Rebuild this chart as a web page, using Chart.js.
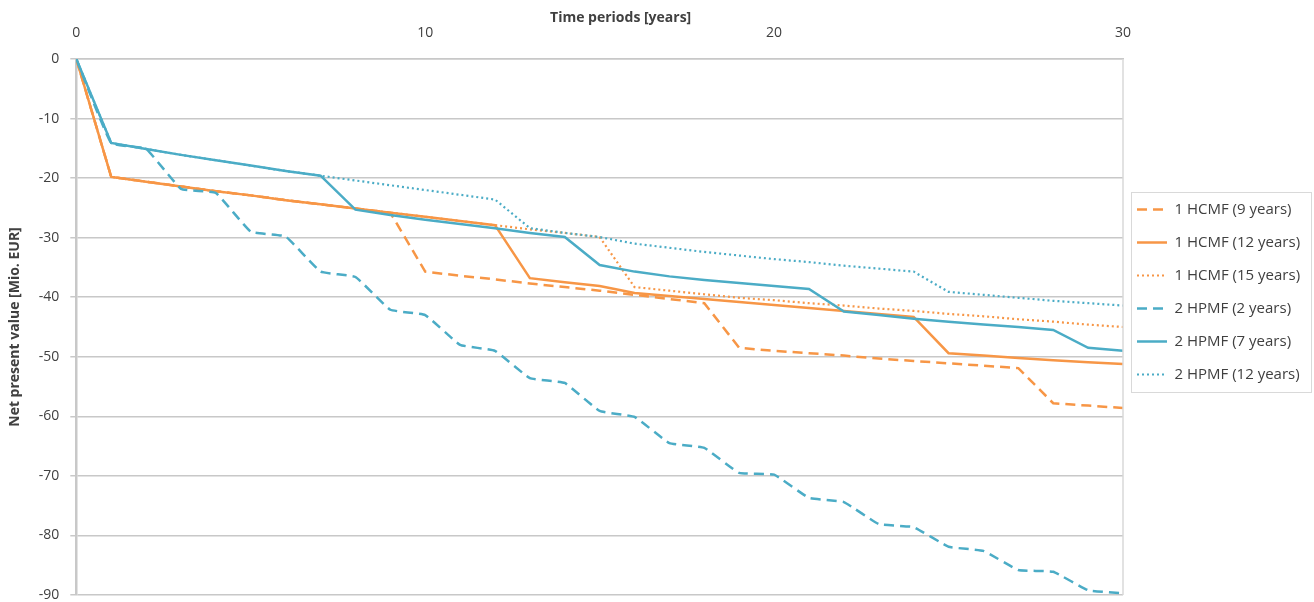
<!DOCTYPE html>
<html>
<head>
<meta charset="utf-8">
<script src="https://cdn.jsdelivr.net/npm/chart.js@4.4.0/dist/chart.umd.min.js"></script>
<style>
  html, body { margin: 0; padding: 0; background: #fff; }
  #wrap { width: 1314px; height: 602px; }
</style>
</head>
<body>
<div id="wrap"><canvas id="chart"></canvas></div>
<script>
// años
const years = [0, 1, 2, 3, 4, 5, 6, 7, 8, 9, 10, 11, 12, 13, 14, 15, 16, 17, 18, 19, 20, 21, 22, 23, 24, 25, 26, 27, 28, 29, 30];

// valores (Mio. EUR)
const hcmf9 = [0, -19.8, -20.6, -21.4, -22.2, -22.9, -23.7, -24.4, -25.1, -25.8, -35.7, -36.4, -37.0, -37.7, -38.3, -38.9, -39.6, -40.3, -41.0, -48.5, -49.0, -49.4, -49.8, -50.3, -50.7, -51.1, -51.5, -51.9, -57.8, -58.2, -58.6];
const hcmf12 = [0, -19.8, -20.6, -21.4, -22.2, -22.9, -23.7, -24.4, -25.1, -25.8, -26.5, -27.2, -27.9, -36.8, -37.5, -38.1, -39.3, -39.8, -40.3, -40.8, -41.3, -41.8, -42.3, -42.8, -43.3, -49.4, -49.8, -50.2, -50.6, -50.9, -51.2];
const hcmf15 = [0, -19.8, -20.6, -21.4, -22.2, -22.9, -23.7, -24.4, -25.1, -25.8, -26.5, -27.2, -27.9, -28.6, -29.2, -29.9, -38.3, -38.9, -39.5, -40.1, -40.5, -41.0, -41.4, -41.9, -42.3, -42.8, -43.2, -43.7, -44.1, -44.6, -45.0];
const hpmf2 = [0, -14.1, -15.1, -21.8, -22.5, -29.0, -29.8, -35.7, -36.6, -42.1, -43.0, -48.0, -49.0, -53.6, -54.4, -59.1, -60.1, -64.5, -65.3, -69.5, -69.8, -73.7, -74.4, -78.1, -78.6, -81.9, -82.6, -85.8, -86.1, -89.2, -89.7];
const hpmf7 = [0, -14.1, -15.1, -16.1, -17.0, -17.9, -18.8, -19.6, -25.3, -26.2, -27.0, -27.7, -28.4, -29.2, -29.9, -34.6, -35.7, -36.5, -37.1, -37.6, -38.1, -38.6, -42.4, -43.0, -43.6, -44.1, -44.6, -45.0, -45.5, -48.5, -49.0];
const hpmf12 = [0, -14.1, -15.1, -16.1, -17.0, -17.9, -18.8, -19.6, -20.4, -21.2, -22.0, -22.8, -23.6, -28.4, -29.2, -29.9, -31.0, -31.7, -32.4, -33.0, -33.6, -34.1, -34.7, -35.2, -35.7, -39.1, -39.6, -40.1, -40.6, -41.0, -41.4];

const orange = '#F79646';
const blue = '#4BACC6';

const toPoints = vals => years.map((t, i) => ({ x: t, y: vals[i] }));

// la última serie queda encima (como en Excel)
function serie(idx, label, vals, color, dash, width, tension) {
    return {
        label: label,
        data: toPoints(vals),
        order: 10 - idx,
        borderColor: color,
        backgroundColor: color,
        borderDash: dash,
        borderWidth: width,
        pointRadius: 0,
        tension: tension || 0,
        fill: false
    };
}

// marco del área y del legend
const frame = {
    id: 'frame',
    beforeLayout(chart) {
        const lg = chart.legend;
        if (lg && !lg._patched) {
            const fit = lg.fit;
            lg.fit = function () { fit.call(this); this.width = 191; };
            lg._patched = true;
        }
    },
    afterLayout(chart) {
        const lg = chart.legend;
        lg.top -= 11; lg.bottom -= 11;
        lg.left -= 4; lg.right -= 4;
    },
    afterDraw(chart) {
        const ctx = chart.ctx;
        const a = chart.chartArea;
        ctx.save();
        ctx.strokeStyle = '#d9d9d9';
        ctx.lineWidth = 1.5;
        ctx.beginPath();
        ctx.moveTo(a.right, a.top);
        ctx.lineTo(a.right, a.bottom);
        ctx.stroke();
        const boxes = chart.legend.legendHitBoxes;
        if (boxes && boxes.length) {
            const last = boxes[boxes.length - 1];
            const top = boxes[0].top - 10;
            const bottom = last.top + last.height + 10;
            ctx.lineWidth = 1;
            ctx.strokeRect(a.right + 8.5, top + 0.5, 1311 - a.right - 8, bottom - top);
        }
        ctx.restore();
    }
};

Chart.defaults.font.family = "'Open Sans', sans-serif";
Chart.defaults.color = '#595959';

new Chart(document.getElementById('chart'), {
    type: 'line',
    data: {
        datasets: [
            serie(0, '1 HCMF (9 years)', hcmf9, orange, [10, 6], 2.5),
            serie(1, '1 HCMF (12 years)', hcmf12, orange, [], 2.5),
            serie(2, '1 HCMF (15 years)', hcmf15, orange, [2, 3], 2.2),
            serie(3, '2 HPMF (2 years)', hpmf2, blue, [10, 6], 2.5, 0.1),
            serie(4, '2 HPMF (7 years)', hpmf7, blue, [], 2.5),
            serie(5, '2 HPMF (12 years)', hpmf12, blue, [2, 3], 2.2)
        ]
    },
    options: {
        responsive: true,
        maintainAspectRatio: false,
        animation: false,
        layout: { autoPadding: false, padding: { top: 11, left: 7, right: 0, bottom: 7 } },
        plugins: {
            tooltip: { enabled: false },
            legend: {
                display: true,
                position: 'right',
                labels: {
                    usePointStyle: true,
                    pointStyle: 'line',
                    pointStyleWidth: 30,
                    padding: 18,
                    color: '#404040',
                    font: { size: 15 },
                    sort: (a, b) => a.datasetIndex - b.datasetIndex,
                    generateLabels(chart) {
                        const items = Chart.defaults.plugins.legend.labels.generateLabels(chart);
                        items.forEach(it => {
                            const ds = chart.data.datasets[it.datasetIndex];
                            it.lineDash = ds.borderDash;
                            it.lineWidth = ds.borderWidth;
                            it.strokeStyle = ds.borderColor;
                        });
                        return items;
                    }
                }
            }
        },
        scales: {
            x: {
                type: 'linear',
                position: 'top',
                min: 0,
                max: 30,
                ticks: { stepSize: 10, font: { size: 14, lineHeight: 1 }, color: '#404040', padding: 1 },
                grid: { display: false, drawTicks: true, tickLength: 18 },
                border: { display: true, color: '#c8c8c8', width: 1.5 },
                title: {
                    display: true,
                    text: '\u2003\u2003\u2003Time periods [years]',
                    color: '#404040',
                    font: { size: 14, weight: 'bold', lineHeight: 1 },
                    padding: { top: 0, bottom: 0 }
                }
            },
            y: {
                min: -90,
                max: 0,
                ticks: { stepSize: 10, font: { size: 14 }, color: '#404040', padding: 11 },
                grid: { color: '#c8c8c8', lineWidth: 1.5, tickLength: 6 },
                border: { display: true, color: '#c8c8c8', width: 2.5 },
                title: {
                    display: true,
                    text: 'Net present value [Mio. EUR]',
                    color: '#404040',
                    font: { size: 14, weight: 'bold' },
                    padding: { top: 0, bottom: 4 }
                },
                afterFit(scale) {
                    scale.paddingTop = 0;
                    scale.paddingBottom = 0;
                }
            }
        }
    },
    plugins: [frame]
});
</script>
</body>
</html>
